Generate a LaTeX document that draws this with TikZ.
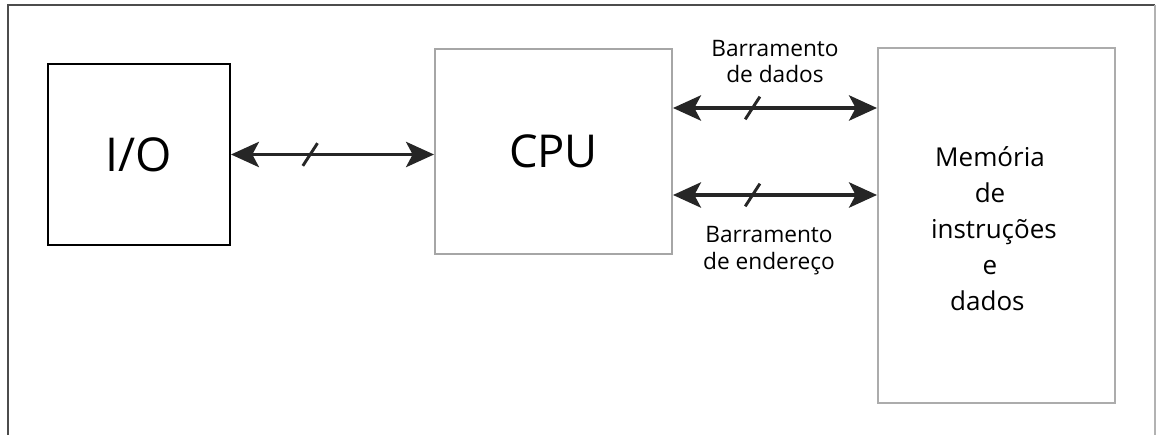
\documentclass[tikz,border=0pt]{standalone}
\usepackage{fontspec}
\setmainfont{Open Sans}
\usetikzlibrary{arrows.meta,decorations.markings}

\tikzset{
  block/.style={draw=#1, line width=1.5pt, inner sep=0pt, fill=white},
  block/.default=black,
  bus/.style={line width=2.4pt, draw=black!85,
    {Stealth[length=21pt,width=19pt,inset=5pt]}-{Stealth[length=21pt,width=19pt,inset=5pt]},
    postaction={decorate},
    decoration={markings, mark=at position 0.39 with
      {\draw[arrows=-, line width=2.2pt, line cap=butt] (-5.5pt,-8.5pt) -- (5.5pt,8.5pt);}}},
  buslabel/.style={font=\fontsize{17}{20}\selectfont, align=center, inner sep=0pt},
}

\begin{document}
\begin{tikzpicture}[x=0.75pt, y=-0.75pt]
  \useasboundingbox (0,0) rectangle (1156,435);

  % frame: open at the bottom
  \draw[line width=1.6pt, draw=black!70] (8,435) -- (8,5) -- (1155,5);
  \draw[line width=0.8pt, draw=black!30] (1155,5) -- (1155,435);

  % blocks
  \node[block, minimum width=182*0.75pt, minimum height=181*0.75pt,
        font=\fontsize{35}{40}\selectfont] (io) at (139,154.5) {I/O};
  \node[block=gray!70, minimum width=237*0.75pt, minimum height=205*0.75pt,
        font=\fontsize{34}{40}\selectfont] (cpu) at (553.5,151.5) {CPU};
  \node[block=gray!65, minimum width=237*0.75pt, minimum height=354*0.75pt] (mem) at (996.5,225.5) {};
  \node[font=\fontsize{19.5}{27}\selectfont, align=center, inner sep=0pt] (memtxt) at (990,229)
    {Memória\\de\hspace*{0.8em}\\\hspace*{0.3em}instruções\\e\hspace*{0.9em}\\dados\hspace*{0.2em}};

  % rows where the buses meet the memory
  \coordinate (ydata) at (0,108);
  \coordinate (yaddr) at (0,195);

  % connectors
  \draw[bus, line width=2.2pt] (io.east) -- (io.east -| cpu.west);
  \draw[bus] (cpu.east |- ydata) -- (mem.west |- ydata);
  \draw[bus] (cpu.east |- yaddr) -- (mem.west |- yaddr);

  % bus labels
  \node[buslabel] (ldata) at (775,61.5) {Barramento\\de dados};
  \node[buslabel] (laddr) at (769,250.5) {Barramento\\de endereço};
\end{tikzpicture}
\end{document}
